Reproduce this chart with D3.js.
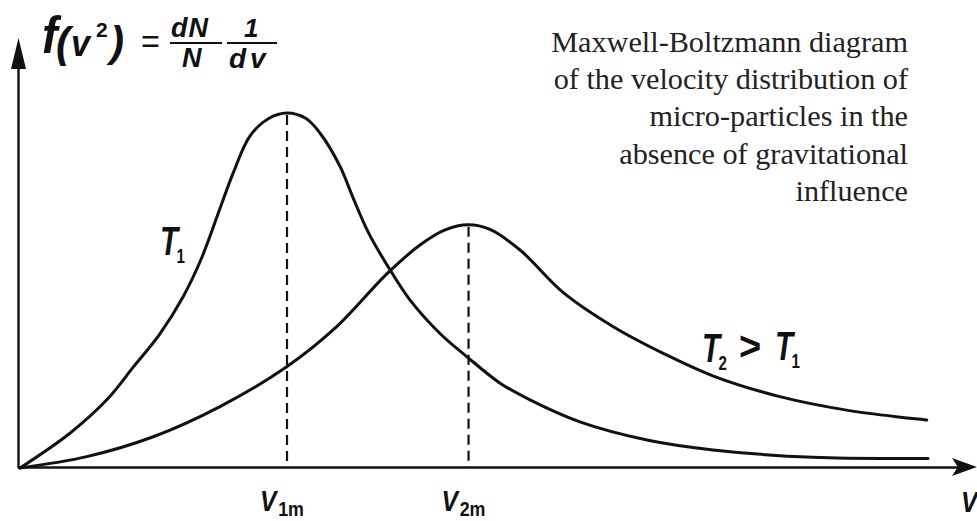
<!DOCTYPE html>
<html><head><meta charset="utf-8">
<script src="https://cdn.jsdelivr.net/npm/d3@7"></script>
<style>html,body{margin:0;padding:0;background:#fff;overflow:hidden}</style>
</head><body><svg id="c" width="977" height="521" xmlns="http://www.w3.org/2000/svg"></svg>
<script>
// ---- data (velocity in units of v1m, f in units of T1 peak) ----
const t1V = [0, 0.187, 0.325, 0.424, 0.524, 0.612, 0.681, 0.749, 0.799, 0.861, 0.93, 1.0, 1.07, 1.124, 1.199, 1.248, 1.305, 1.386, 1.461, 1.573, 1.673, 1.798, 1.910, 2.097, 2.348, 2.596, 2.970, 3.401];
const t1F = [0, 0.098, 0.192, 0.284, 0.378, 0.484, 0.593, 0.731, 0.832, 0.935, 0.984, 1.0, 0.985, 0.943, 0.849, 0.760, 0.663, 0.558, 0.473, 0.379, 0.314, 0.239, 0.192, 0.130, 0.079, 0.051, 0.030, 0.027];
const t2V = [0, 0.250, 0.499, 0.749, 0.999, 1.186, 1.373, 1.498, 1.590, 1.680, 1.760, 1.873, 2.035, 2.222, 2.409, 2.597, 2.846, 3.096, 3.396];
const t2F = [0, 0.032, 0.088, 0.173, 0.285, 0.398, 0.546, 0.628, 0.670, 0.685, 0.672, 0.614, 0.494, 0.398, 0.323, 0.259, 0.201, 0.163, 0.135];
const peakV = [1.0, 1.68];
const peakF = [1.0, 0.685];
const tickMain = ["V", "V"];
const tickSub = ["1m", "2m"];
const vMax = 3.584, fMax = 1.211;
const titleLines = ["Maxwell-Boltzmann diagram", "of the velocity distribution of", "micro-particles in the", "absence of gravitational", "influence"];

const ink = "#111";
const svg = d3.select("#c");
const x = d3.scaleLinear().domain([0, 1]).range([20, 287]);
const y = d3.scaleLinear().domain([0, 1]).range([468, 113]);

// axes
const x0 = x(0), y0 = y(0);
svg.append("line").attr("x1", x0 - 2).attr("x2", x(vMax) - 12).attr("y1", y0 - 0.5).attr("y2", y0 - 0.5)
  .attr("stroke", ink).attr("stroke-width", 2.6);
svg.append("path").attr("d", `M${x(vMax)},${y0 - 1} L${x(vMax) - 25},${y0 - 10} L${x(vMax) - 19},${y0 - 1} L${x(vMax) - 25},${y0 + 8} Z`)
  .attr("fill", ink);
svg.append("line").attr("x1", x0 - 1.5).attr("x2", x0 - 1.5).attr("y1", y0).attr("y2", y(fMax) + 25)
  .attr("stroke", ink).attr("stroke-width", 2.4);
svg.append("path").attr("d", `M${x0 - 1.5},${y(fMax)} L${x0 - 9},${y(fMax) + 31} L${x0 + 6},${y(fMax) + 31} Z`)
  .attr("fill", ink);

// dashed verticals
svg.selectAll("line.peak").data(peakV).join("line").attr("class", "peak")
  .attr("x1", d => x(d)).attr("x2", d => x(d))
  .attr("y1", (d, i) => y(peakF[i]) + 2).attr("y2", y0)
  .attr("stroke", ink).attr("stroke-width", 2.2).attr("stroke-dasharray", "10,6");

// curves
const line = d3.line().x(d => x(d[0])).y(d => y(d[1])).curve(d3.curveCatmullRom.alpha(0.5));
[[t1V, t1F], [t2V, t2F]].forEach(([vs, fs]) => {
  svg.append("path").attr("d", line(vs.map((v, i) => [v, fs[i]])))
    .attr("fill", "none").attr("stroke", ink).attr("stroke-width", 3).attr("stroke-linecap", "round");
});

const sans = "'Liberation Sans', Arial, sans-serif";
function lab(px, py, main, sub, size, subSize, sx, subDx, subDy, subItalic) {
  const t = svg.append("text").attr("transform", `translate(${px},${py}) scale(${sx},1)`)
    .attr("font-family", sans).attr("font-weight", "bold").attr("font-style", "italic")
    .attr("font-size", size).attr("fill", ink);
  t.append("tspan").text(main);
  if (sub) t.append("tspan").attr("font-size", subSize).attr("dx", subDx).attr("dy", subDy)
    .attr("font-style", subItalic ? "italic" : "normal").text(sub);
  return t;
}
// tick labels
peakV.forEach((v, i) => lab(x(v) - 27, 511, tickMain[i], tickSub[i], 29, 21, 0.85, 2, 5, false));
lab(961, 512, "V", null, 29, 0, 0.85);

// curve labels
lab(160, 255, "T", "1", 41, 21, 0.72, -2, 8, false);
lab(702, 362, "T", "2", 41, 21, 0.72, -2, 8, false);
svg.append("text").attr("transform", "translate(739,360) scale(0.95,1)").attr("font-family", sans)
  .attr("font-weight", "bold").attr("font-size", 40).attr("fill", ink).text(">");
lab(775, 360, "T", "1", 41, 21, 0.72, -2, 8, false);

// formula
function ftxt(px, py, s, size, bold, italic, sx, ls) {
  svg.append("text").attr("transform", `translate(${px},${py}) scale(${sx || 1},1)`).attr("font-family", sans)
    .attr("font-weight", bold ? "bold" : "normal").attr("font-style", italic ? "italic" : "normal")
    .attr("letter-spacing", ls || 0)
    .attr("font-size", size).attr("fill", ink).text(s);
}
ftxt(42, 53, "f", 52, true, true, 0.9);
ftxt(56, 57, "(", 42, true, true);
ftxt(71, 56, "v", 36, true, true, 0.95);
ftxt(96, 37, "2", 21, true, false);
ftxt(110, 56, ")", 42, true, true);
ftxt(141, 53, "=", 34, false, false, 0.95);
ftxt(171, 37, "dN", 27, true, true, 1, 1);
ftxt(182, 67, "N", 27, true, true, 1);
ftxt(244, 37, "1", 26, true, true, 1);
ftxt(229, 68, "dv", 28, true, true, 1, 4);
svg.append("line").attr("x1", 170).attr("x2", 222).attr("y1", 43).attr("y2", 43).attr("stroke", ink).attr("stroke-width", 2);
svg.append("line").attr("x1", 227).attr("x2", 277).attr("y1", 43).attr("y2", 43).attr("stroke", ink).attr("stroke-width", 2);

// title block
const tl = svg.append("g").selectAll("text").data(titleLines).join("text")
  .attr("x", 908).attr("y", (d, i) => 52 + i * 37.2)
  .attr("text-anchor", "end").attr("font-family", "'Liberation Serif', 'Times New Roman', serif")
  .attr("font-size", 26).attr("fill", "#222").text(d => d);
const w = tl.nodes()[0].getComputedTextLength();
tl.attr("font-size", 26 * 357 / w);
</script></body></html>
